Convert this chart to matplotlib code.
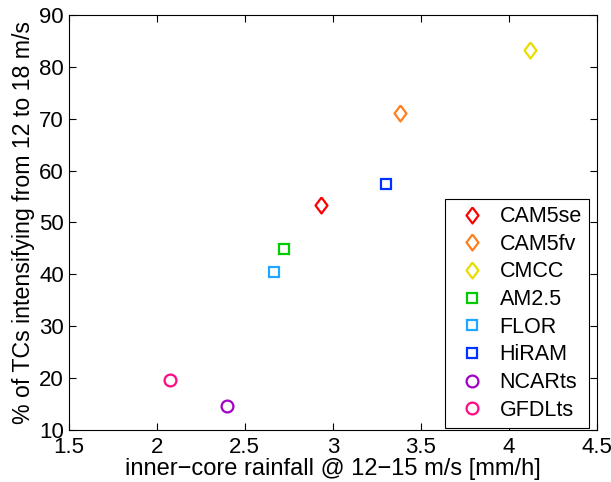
import matplotlib
matplotlib.use('Agg')
import matplotlib.pyplot as plt

plt.rcParams['font.family'] = ['Liberation Sans', 'DejaVu Sans']

models = ['CAM5se', 'CAM5fv', 'CMCC', 'AM2.5', 'FLOR', 'HiRAM', 'NCARts', 'GFDLts']
rainfall = [2.934, 3.38, 4.12, 2.725, 2.666, 3.30, 2.40, 2.076]
pct_intens = [53.3, 71.1, 83.3, 44.9, 40.5, 57.5, 14.6, 19.6]
colors = ['#ff0000', '#ff7f1e', '#e8dc00', '#00cc00', '#1ea8ff', '#0033ff', '#a000c8', '#ff0a82']
kinds = ['diamond', 'diamond', 'diamond', 'square', 'square', 'square', 'circle', 'circle']

# matlab-like diamond, a bit taller than wide
diamond = [(0, 1), (0.75, 0), (0, -1), (-0.75, 0), (0, 1)]
marker_style = {
    'diamond': dict(marker=diamond, markersize=11.5),
    'square': dict(marker='s', markersize=7),
    'circle': dict(marker='o', markersize=8.5),
}

fig = plt.figure(figsize=(6.11, 4.82), dpi=100)
ax = fig.add_axes([0.1125, 0.108, 0.8645, 0.861])

for name, x, y, c, k in zip(models, rainfall, pct_intens, colors, kinds):
    ax.plot(x, y, linestyle='none', markerfacecolor='none', markeredgecolor=c,
            markeredgewidth=1.6, label=name, **marker_style[k])

ax.set_xlim(1.5, 4.5)
ax.set_ylim(10, 90)
ax.set_xticks([1.5, 2, 2.5, 3, 3.5, 4, 4.5])
ax.set_xticklabels(['1.5', '2', '2.5', '3', '3.5', '4', '4.5'])
ax.set_yticks(range(10, 91, 10))
ax.tick_params(direction='in', top=True, right=True, labelsize=16, length=5, width=0.8)
ax.tick_params(axis='x', pad=5)
for sp in ax.spines.values():
    sp.set_linewidth(0.8)

ax.set_xlabel('inner\u2212core rainfall @ 12\u221215 m/s [mm/h]', fontsize=17, labelpad=0)
ax.set_ylabel('% of TCs intensifying from 12 to 18 m/s', fontsize=16.7, labelpad=3)

leg = ax.legend(loc='lower right', bbox_to_anchor=(0.985, 0.005), fontsize=15.5,
                fancybox=False, edgecolor='black', framealpha=1, handlelength=1.85,
                handletextpad=0.35, labelspacing=0.31, borderaxespad=0, borderpad=0.33)
leg.get_frame().set_linewidth(0.8)

fig.savefig('out.png', dpi=100)
